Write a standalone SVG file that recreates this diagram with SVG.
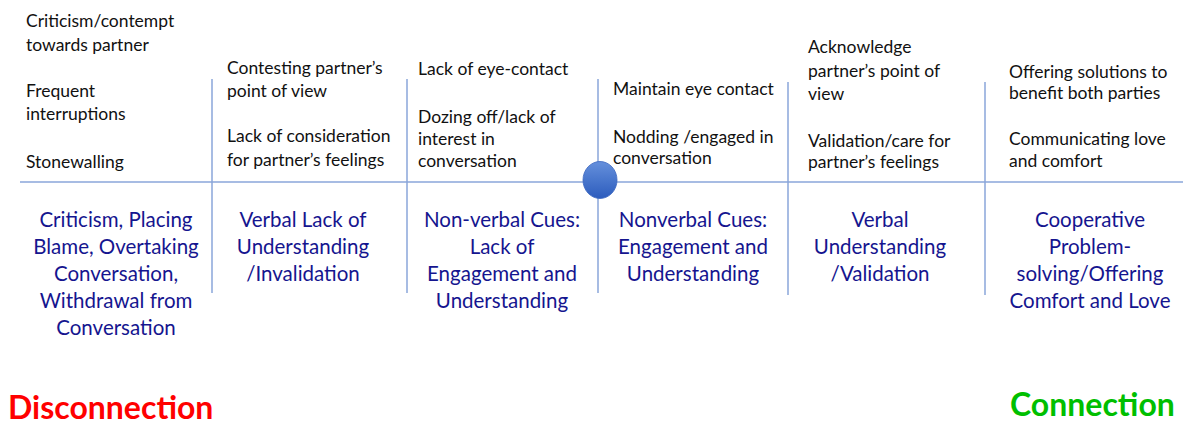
<svg xmlns="http://www.w3.org/2000/svg" width="1183" height="424" viewBox="0 0 1183 424">
  <style>
    .axis { stroke: #8aa6da; stroke-width: 1.5; fill: none; }
    .cue { font-family: Lato, "Open Sans", "Liberation Sans", sans-serif; font-size: 17.5px; fill: #111111; }
    .stage { font-family: Lato, "Open Sans", "Liberation Sans", sans-serif; font-size: 20.5px; fill: #15158f; text-anchor: middle; }
    .pole { font-family: Lato, "Open Sans", "Liberation Sans", sans-serif; font-size: 32px; font-weight: bold; }
  </style>
  <defs>
    <linearGradient id="dotFill" x1="0" y1="0" x2="0" y2="1">
      <stop offset="0" stop-color="#6590dc"/>
      <stop offset="1" stop-color="#2c5cbd"/>
    </linearGradient>
  </defs>

  <rect width="1183" height="424" fill="#ffffff"/>

  <!-- spectrum axis with column dividers -->
  <g id="connectors">
    <line class="axis" x1="20" y1="182" x2="1183" y2="182"/>
    <line class="axis" x1="212" y1="79" x2="212" y2="293"/>
    <line class="axis" x1="407" y1="79" x2="407" y2="293"/>
    <line class="axis" x1="598" y1="79" x2="598" y2="293"/>
    <line class="axis" x1="788" y1="82" x2="788" y2="295"/>
    <line class="axis" x1="985" y1="82" x2="985" y2="295"/>
  </g>

  <!-- midpoint marker -->
  <g id="midpoint">
    <ellipse cx="600" cy="180" rx="17" ry="18.5" fill="url(#dotFill)" stroke="#3a66bf" stroke-width="0.8"/>
  </g>

  <g id="stage-criticism">
    <text class="cue" x="26" y="27">Criticism/contempt</text>
    <text class="cue" x="26" y="51">towards partner</text>
    <text class="cue" x="26" y="97">Frequent</text>
    <text class="cue" x="26" y="120">interruptions</text>
    <text class="cue" x="26" y="168">Stonewalling</text>
    <text class="stage" x="116" y="227">Criticism, Placing</text>
    <text class="stage" x="116" y="254">Blame, Overtaking</text>
    <text class="stage" x="116" y="281">Conversation,</text>
    <text class="stage" x="116" y="308">Withdrawal from</text>
    <text class="stage" x="116" y="335">Conversation</text>
  </g>

  <g id="stage-verbal-invalidation">
    <text class="cue" x="227" y="74">Contesting partner’s</text>
    <text class="cue" x="227" y="97">point of view</text>
    <text class="cue" x="227" y="142">Lack of consideration</text>
    <text class="cue" x="227" y="166">for partner’s feelings</text>
    <text class="stage" x="303" y="227">Verbal Lack of</text>
    <text class="stage" x="303" y="254">Understanding</text>
    <text class="stage" x="303" y="281">/Invalidation</text>
  </g>

  <g id="stage-nonverbal-disengaged">
    <text class="cue" x="418" y="75">Lack of eye-contact</text>
    <text class="cue" x="418" y="123">Dozing off/lack of</text>
    <text class="cue" x="418" y="145">interest in</text>
    <text class="cue" x="418" y="167">conversation</text>
    <text class="stage" x="502" y="227">Non-verbal Cues:</text>
    <text class="stage" x="502" y="254">Lack of</text>
    <text class="stage" x="502" y="281">Engagement and</text>
    <text class="stage" x="502" y="308">Understanding</text>
  </g>

  <g id="stage-nonverbal-engaged">
    <text class="cue" x="613" y="95">Maintain eye contact</text>
    <text class="cue" x="613" y="143">Nodding /engaged in</text>
    <text class="cue" x="613" y="164">conversation</text>
    <text class="stage" x="693" y="227">Nonverbal Cues:</text>
    <text class="stage" x="693" y="254">Engagement and</text>
    <text class="stage" x="693" y="281">Understanding</text>
  </g>

  <g id="stage-verbal-validation">
    <text class="cue" x="808" y="53">Acknowledge</text>
    <text class="cue" x="808" y="77">partner’s point of</text>
    <text class="cue" x="808" y="100">view</text>
    <text class="cue" x="808" y="147">Validation/care for</text>
    <text class="cue" x="808" y="168">partner’s feelings</text>
    <text class="stage" x="880" y="227">Verbal</text>
    <text class="stage" x="880" y="254">Understanding</text>
    <text class="stage" x="880" y="281">/Validation</text>
  </g>

  <g id="stage-cooperative">
    <text class="cue" x="1009" y="78">Offering solutions to</text>
    <text class="cue" x="1009" y="99">benefit both parties</text>
    <text class="cue" x="1009" y="145">Communicating love</text>
    <text class="cue" x="1009" y="167">and comfort</text>
    <text class="stage" x="1090" y="227">Cooperative</text>
    <text class="stage" x="1090" y="254">Problem-</text>
    <text class="stage" x="1090" y="281">solving/Offering</text>
    <text class="stage" x="1090" y="308">Comfort and Love</text>
  </g>

  <g id="pole-disconnection">
    <text class="pole" x="8" y="419" fill="#ff0000">Disconnection</text>
  </g>
  <g id="pole-connection">
    <text class="pole" x="1010" y="416" fill="#00bf00">Connection</text>
  </g>
</svg>
